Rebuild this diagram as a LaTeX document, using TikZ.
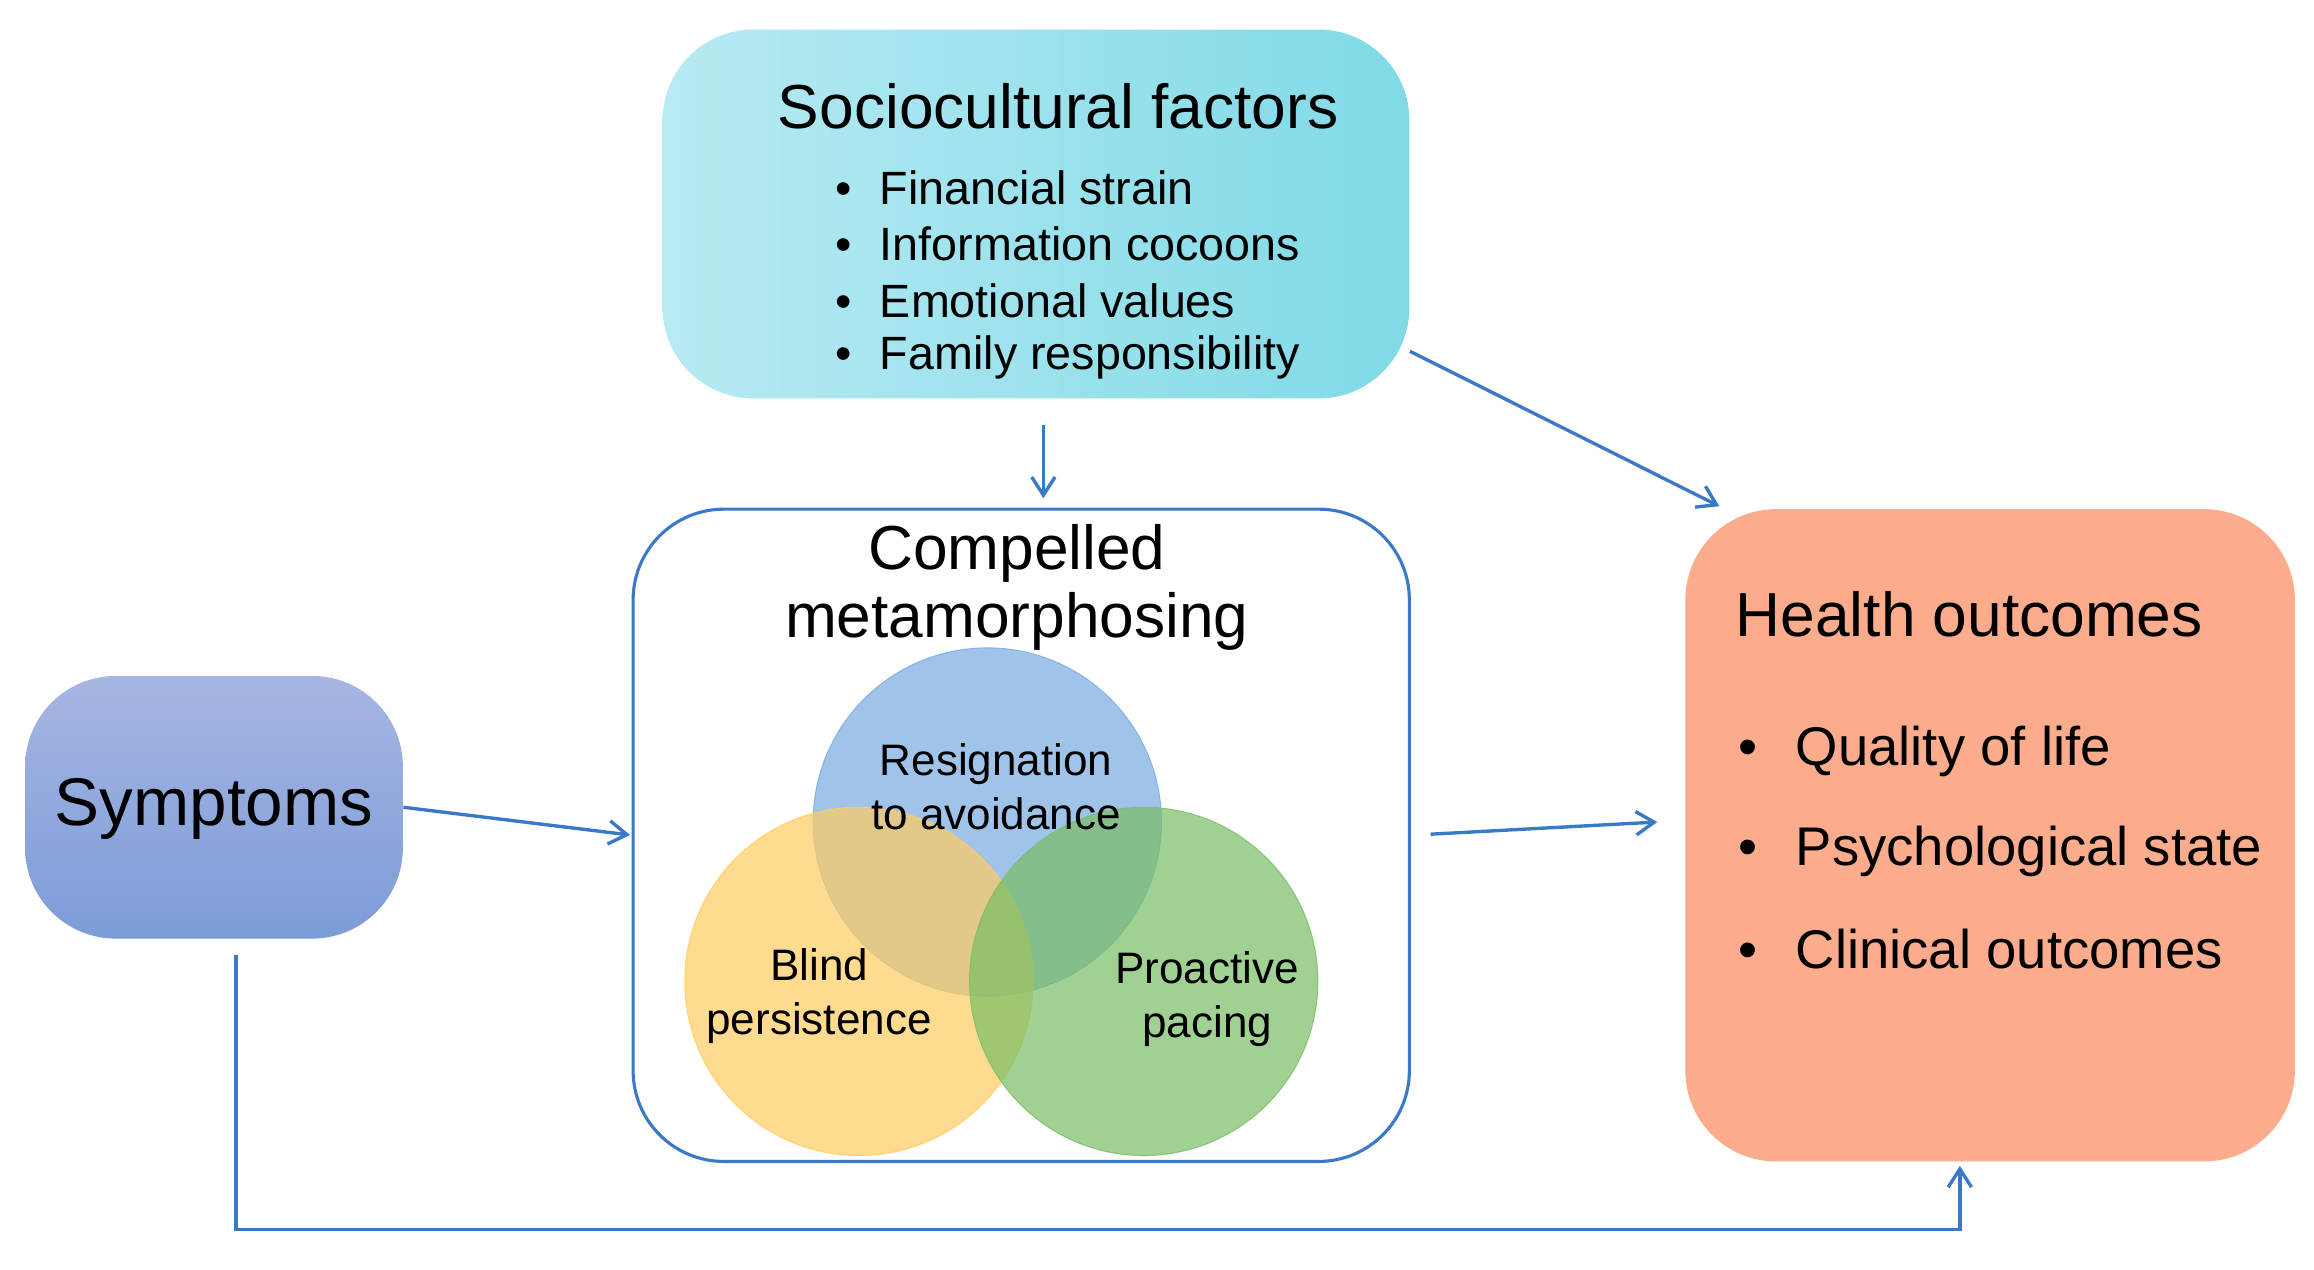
\documentclass[tikz,border=0pt]{standalone}
\usepackage{fontspec}
\setmainfont{Liberation Sans}
\usetikzlibrary{positioning, arrows.meta}
\definecolor{my_cyanl}{RGB}{184, 234, 243}
\definecolor{my_cyand}{RGB}{128, 218, 230}
\definecolor{my_bluel}{RGB}{166, 182, 226}
\definecolor{my_blued}{RGB}{124, 156, 216}
\definecolor{my_salmon}{RGB}{250, 172, 140}
\definecolor{my_arrow}{RGB}{58, 120, 200}
\definecolor{my_circblue}{RGB}{120, 170, 224}
\definecolor{my_circorange}{RGB}{255, 204, 96}
\definecolor{my_circgreen}{RGB}{120, 190, 100}
\tikzset {
  box/.style = {rounded corners=35pt, rectangle, inner sep=0pt},
  title/.style = {font=\fontsize{24}{28}\selectfont, align=center},
  item/.style = {font=\fontsize{18}{21}\selectfont, anchor=west},
  bigitem/.style = {font=\fontsize{21}{25}\selectfont, anchor=west},
  circ/.style = {circle, minimum size=236*0.02cm, fill opacity=0.7, text opacity=1, draw opacity=0.8, font=\fontsize{17}{21}\selectfont, align=center},
  line/.style = {-{Straight Barb[length=7pt,width=9pt]}, line width=1.3pt, color=my_arrow}
}
\begin{document}
\begin{tikzpicture}[x=0.02cm, y=-0.02cm]
    \useasboundingbox (0,0) rectangle (1568,860);

    % boxes
    \shade[box, left color=my_cyanl, right color=my_cyand] (449,20) rectangle (955,270);
    \node[box, minimum width=506*0.02cm, minimum height=250*0.02cm] (socio) at (702,145) {};
    \shade[box, top color=my_bluel, bottom color=my_blued] (17,458) rectangle (273,636);
    \node[box, minimum width=256*0.02cm, minimum height=178*0.02cm] (symp) at (145,547) {};
    \fill[box, my_salmon] (1142,345) rectangle (1555,787);
    \node[box, minimum width=413*0.02cm, minimum height=442*0.02cm] (health) at (1348,566) {};
    \draw[box, my_arrow, line width=1.2pt] (429,345) rectangle (955,787);
    \node[box, minimum width=526*0.02cm, minimum height=442*0.02cm] (comp) at (692,566) {};

    % texts
    \node[title] at (717,72) {Sociocultural factors};
    \foreach \t [count=\i] in {Financial strain, Information cocoons, Emotional values, Family responsibility}
      \node[item] at (560,127+38.5*\i-38.5) {\textbullet\hspace{0.6em}\t};
    \node[title, font=\fontsize{26}{30}\selectfont] at (145,548) {Symptoms};
    \node[title] at (689,398) {Compelled\\[-2pt]metamorphosing};
    \node[title, anchor=west] at (1170,416) {Health outcomes};
    \foreach \t/\y in {Quality of life/509, Psychological state/577, Clinical outcomes/643}
      \node[bigitem] at (1172,\y) {\textbullet\hspace{0.7em}\t};

    % circles
    \node[circ, fill=my_circblue, draw=my_circblue] (resig) at (669,557) {};
    \node[circ, fill=my_circorange, draw=my_circorange] (blind) at (582,665) {};
    \node[circ, fill=my_circgreen, draw=my_circgreen] (pace) at (775,665) {};
    \node[font=\fontsize{17}{21}\selectfont, align=center] at (675,533) {Resignation\\to avoidance};
    \node[font=\fontsize{17}{21}\selectfont, align=center] at (555,675) {Blind\\persistence};
    \node[font=\fontsize{17}{21}\selectfont, align=center] at (818,677) {Proactive\\pacing};

    % connectors
    \coordinate (gap) at (1123,557);
    \coordinate (corner1) at (160,833);
    \coordinate (corner2) at (1328,833);
    \draw[line, shorten <=10pt, shorten >=4pt] (socio.south -| 707,0) -- (comp.north -| 707,0);
    \draw[line] (socio.east |- 955,238) -- (1165,343);
    \draw[line, shorten >=1pt] (symp.east) -- (comp.west);
    \draw[line, shorten <=8pt] (comp.east) -- (gap);
    \draw[line, shorten <=6pt] (symp.south -| corner1) -- (corner1) -- (corner2) -- (1328,790);
\end{tikzpicture}
\end{document}
